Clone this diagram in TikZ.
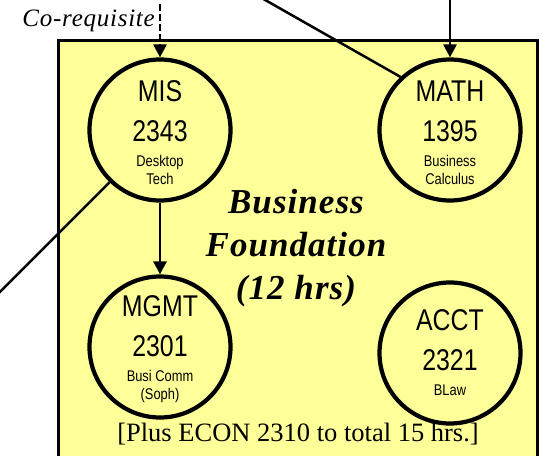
\documentclass[tikz,border=0pt]{standalone}
\usepackage{fontspec}
\setmainfont{Liberation Serif}
\newfontfamily\narrowsans[FakeStretch=0.83]{Liberation Sans}
\usetikzlibrary{arrows.meta}
\definecolor{boxyellow}{HTML}{FFFF99}
\newcommand\coursebig{\narrowsans\fontsize{30}{39}\selectfont}
\newcommand\coursesmall{\narrowsans\fontsize{15.5}{39}\selectfont}
\newcommand\coursestrut{\rule{0pt}{26pt}}
\tikzset{
  course/.style={circle,draw=black,line width=4.2pt,minimum size=141pt,inner sep=0pt,align=center,font=\coursebig},
  prereq/.style={line width=2.7pt,-{Triangle[length=13pt,width=13pt]}},
  link/.style={line width=2.5pt},
}

\begin{document}
\begin{tikzpicture}[x=1pt,y=-1pt]

\useasboundingbox (0,0) rectangle (543,455);
\clip (0,0) rectangle (543,455);
\fill[white] (0,0) rectangle (543,455);

\draw[fill=boxyellow,line width=2.2pt] (58.5,40.5) rectangle (537.5,480);

\node[course] (mis) at (160,130) {\coursestrut MIS\\[1pt]2343\\[-14pt]{\coursesmall Desktop}\\[-21pt]{\coursesmall Tech}};
\node[course] (math) at (450,130) {\coursestrut MATH\\[1pt]1395\\[-14pt]{\coursesmall Business}\\[-21pt]{\coursesmall Calculus}};
\node[course] (mgmt) at (160,347) {\coursestrut MGMT\\[1pt]2301\\[-14pt]{\coursesmall Busi Comm}\\[-21pt]{\coursesmall (Soph)}};
\node[course] (acct) at (450,353) {ACCT\\[1pt]2321\\[-14pt]{\coursesmall BLaw}};

\node[font=\bfseries\itshape\fontsize{35}{43}\selectfont\addfontfeature{LetterSpace=3},align=center] (title) at (296,248) {Business\\Foundation\\(12 hrs)};
\node[anchor=base east,inner sep=0pt,font=\itshape\fontsize{25}{30}\selectfont\addfontfeature{LetterSpace=3}] (coreq) at (155,27) {Co-requisite};
\node[anchor=base,inner sep=0pt,font=\fontsize{26.5}{32}\selectfont] (plus) at (298,441) {[Plus ECON 2310 to total 15 hrs.]};

\coordinate (coreqtop) at (160,4);
\coordinate (mathtop) at (450,-5);
\coordinate (mathfar) at (230,-20);
\coordinate (misfar) at (-20,312);

\draw[prereq,dash pattern=on 7pt off 3pt] (coreqtop) -- (mis.north);
\draw[prereq] (mathtop) -- (math.north);
\draw[prereq] (mis.south) -- (mgmt.north);
\draw[link] (mathfar) -- (math.133);
\draw[link] (mis.226) -- (misfar);

\end{tikzpicture}
\end{document}
